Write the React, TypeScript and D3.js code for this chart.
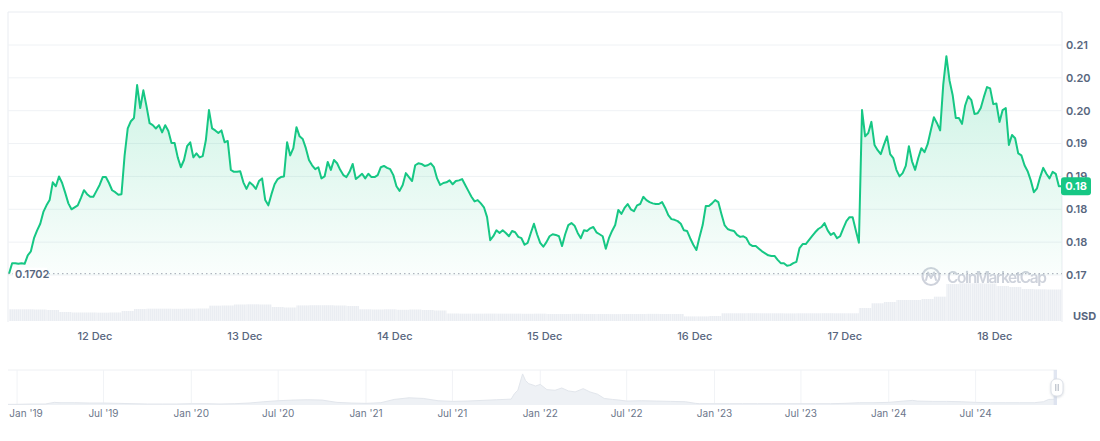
import React from "react";
import * as d3 from "d3";

const width = 1100;
const height = 441;
const plot = { left: 8, right: 1062, top: 12, bottom: 322 };
const nav = { left: 8, right: 1057, top: 370, bottom: 405 };

// price, one value every 30 minutes, starting 11 Dec 10:15
const seriesStart = new Date(2024, 11, 11, 10, 15);
const seriesEnd = new Date(2024, 11, 18, 10, 45);

const dec11 = [
  0.1702, 0.1718, 0.1718, 0.1717, 0.1718, 0.1717, 0.173, 0.1736, 0.1756, 0.1768,
  0.1778, 0.1796, 0.1806, 0.1814, 0.1841, 0.1835, 0.185, 0.184, 0.1825, 0.1809,
  0.18, 0.1803, 0.1806, 0.1817, 0.1829, 0.1823, 0.1819, 0.1819
];
const dec12 = [
  0.1828, 0.1837, 0.1849, 0.1849, 0.184, 0.1829, 0.1826, 0.1822, 0.1823, 0.1882,
  0.1923, 0.1934, 0.1939, 0.1989, 0.1954, 0.1981, 0.1957, 0.1931, 0.1928, 0.1923,
  0.1928, 0.1917, 0.1928, 0.1919, 0.1901, 0.1901, 0.1879, 0.1864, 0.1875, 0.1896,
  0.1902, 0.1879, 0.1885, 0.1879, 0.1881, 0.1905, 0.1951, 0.1923, 0.192, 0.1916,
  0.192, 0.1902, 0.1904, 0.186, 0.1857, 0.1857, 0.1858, 0.1841
];
const dec13 = [
  0.1831, 0.1841, 0.1837, 0.1831, 0.1843, 0.1847, 0.1814, 0.1806, 0.1823, 0.1838,
  0.1846, 0.1849, 0.185, 0.1902, 0.1882, 0.1893, 0.1925, 0.1911, 0.1907, 0.1893,
  0.1875, 0.1867, 0.1861, 0.1864, 0.1847, 0.185, 0.1872, 0.186, 0.1875, 0.187,
  0.186, 0.1852, 0.1849, 0.1857, 0.1869, 0.1846, 0.185, 0.1854, 0.1847, 0.1854,
  0.1849, 0.1849, 0.1852, 0.1864, 0.1866, 0.1863, 0.1861, 0.1852
];
const dec14 = [
  0.1835, 0.1828, 0.1837, 0.1855, 0.1849, 0.1843, 0.1867, 0.187, 0.1869, 0.1866,
  0.1867, 0.187, 0.1864, 0.1847, 0.1837, 0.184, 0.1841, 0.1844, 0.1838, 0.1843,
  0.1844, 0.1846, 0.1837, 0.1828, 0.1819, 0.1812, 0.1814, 0.1809, 0.1803, 0.1788,
  0.1753, 0.1759, 0.1768, 0.1764, 0.1768, 0.1764, 0.1759, 0.1767, 0.1765, 0.1758,
  0.1756, 0.1746, 0.1749, 0.1764, 0.1778, 0.1762, 0.1749, 0.1743
];
const dec15 = [
  0.175, 0.1759, 0.1762, 0.1761, 0.1759, 0.1744, 0.1762, 0.1776, 0.1779, 0.1775,
  0.1764, 0.1756, 0.1768, 0.1767, 0.1771, 0.1773, 0.1765, 0.1762, 0.1759, 0.174,
  0.1756, 0.1767, 0.1776, 0.1799, 0.1793, 0.1802, 0.1808, 0.18, 0.1797, 0.1806,
  0.1808, 0.1819, 0.1814, 0.1811, 0.1809, 0.1808, 0.1808, 0.1811, 0.1802, 0.1791,
  0.1785, 0.1784, 0.1782, 0.1778, 0.1768, 0.1767, 0.1756, 0.1746
];
const dec16 = [
  0.1738, 0.1758, 0.1776, 0.1805, 0.1805, 0.1809, 0.1814, 0.1811, 0.1793, 0.1776,
  0.177, 0.1768, 0.1767, 0.1761, 0.1758, 0.1759, 0.1756, 0.1747, 0.1744, 0.1744,
  0.174, 0.1736, 0.1733, 0.173, 0.1729, 0.1729, 0.1723, 0.1718, 0.1718, 0.1714,
  0.1715, 0.1718, 0.172, 0.1741, 0.1747, 0.1747, 0.1753, 0.1759, 0.1765, 0.177,
  0.1773, 0.1779, 0.1768, 0.1761, 0.1764, 0.1756, 0.1759, 0.1771
];
const dec17 = [
  0.1782, 0.1788, 0.1788, 0.1768, 0.1749, 0.1951, 0.1911, 0.1916, 0.1933, 0.1898,
  0.189, 0.1884, 0.1898, 0.1911, 0.1884, 0.1878, 0.186, 0.185, 0.1855, 0.1866,
  0.1896, 0.1873, 0.186, 0.1878, 0.1893, 0.1887, 0.1899, 0.192, 0.194, 0.1931,
  0.192, 0.199, 0.2033, 0.1996, 0.1974, 0.1939, 0.1939, 0.193, 0.1958, 0.1972,
  0.1966, 0.1945, 0.1946, 0.1954, 0.1971, 0.1986, 0.1984, 0.196
];
const dec18 = [
  0.1961, 0.1933, 0.1951, 0.1954, 0.1898, 0.1913, 0.1908, 0.1885, 0.1882, 0.1867,
  0.1858, 0.1844, 0.1826, 0.1832, 0.1849, 0.1863, 0.1854, 0.1847, 0.1857, 0.1854,
  0.1835, 0.1835
];

// traded volume (millions USD), one bar per 2 hours from the same start
const volumes = [
  29.3, 29.3, 28.8, 27.5, 22.5, 21.3, 21.3, 20.8, 21.3, 25,
  30, 30.8, 30.8, 30.5, 30.8, 31.3, 38.3, 38.8, 41.3, 41.8,
  41.3, 35, 33.8, 39, 39.5, 39.5, 38.8, 37.5, 29.3, 28.8,
  29.3, 28, 28.8, 27.5, 26.3, 18.8, 18.3, 18.3, 18.5, 18.3,
  18.3, 18, 18.3, 17.5, 17.5, 17.8, 17.5, 17.5, 17.3, 17.5,
  17.5, 17.8, 17.5, 17.5, 11.5, 11.5, 12.5, 19.3, 19.3, 19.5,
  19.3, 19.3, 19, 19.3, 19.3, 19.5, 19.3, 19.3, 32.5, 44.3,
  47.5, 52.5, 52.5, 55, 60.8, 92.5, 94.3, 94.3, 93.8, 87.5,
  85, 80, 79.3, 78.8, 78.8
];

const startPrice = 0.1702;

const yTicks = [0.17, 0.175, 0.18, 0.185, 0.19, 0.195, 0.2, 0.205];
const yTickLabels = ["0.17", "0.18", "0.18", "0.19", "0.19", "0.20", "0.20", "0.21"];

const dayTicks = ["2024-12-12", "2024-12-13", "2024-12-14", "2024-12-15", "2024-12-16", "2024-12-17", "2024-12-18"];
const dayTickLabels = ["12 Dec", "13 Dec", "14 Dec", "15 Dec", "16 Dec", "17 Dec", "18 Dec"];

// full history for the range navigator
const navDates = [
  "2018-12-13", "2019-01-01", "2019-02-01", "2019-03-01", "2019-03-20", "2019-04-01", "2019-05-01",
  "2019-06-01", "2019-07-01", "2019-08-01", "2019-09-01", "2019-10-01", "2019-11-01", "2019-12-01",
  "2020-01-01", "2020-02-01", "2020-03-01", "2020-04-01", "2020-05-01", "2020-06-01", "2020-07-01",
  "2020-08-01", "2020-09-01", "2020-10-01", "2020-11-01", "2020-12-01", "2021-01-01", "2021-02-01",
  "2021-03-01", "2021-04-01", "2021-05-01", "2021-06-01", "2021-07-01", "2021-08-01", "2021-09-01",
  "2021-10-01", "2021-11-01", "2021-11-08", "2021-11-15", "2021-11-22", "2021-11-25", "2021-12-01",
  "2021-12-08", "2021-12-15", "2021-12-22", "2022-01-01", "2022-01-15", "2022-02-01", "2022-02-15",
  "2022-03-01", "2022-03-15", "2022-04-01", "2022-04-15", "2022-05-01", "2022-05-15", "2022-06-01",
  "2022-06-15", "2022-07-01", "2022-08-01", "2022-09-01", "2022-10-01", "2022-11-01", "2022-11-22",
  "2022-12-01", "2023-01-01", "2023-02-01", "2023-03-01", "2023-04-01", "2023-05-01", "2023-06-01",
  "2023-07-01", "2023-08-01", "2023-09-01", "2023-10-01", "2023-11-01", "2023-12-01", "2024-01-01",
  "2024-02-01", "2024-02-20", "2024-03-01", "2024-04-01", "2024-05-01", "2024-06-01", "2024-07-01",
  "2024-08-01", "2024-09-01", "2024-10-01", "2024-11-01", "2024-11-20", "2024-12-01", "2024-12-18"
];
const navPrices = [
  0.02, 0.02, 0.03, 0.03, 0.08, 0.07, 0.07,
  0.06, 0.06, 0.05, 0.04, 0.03, 0.03, 0.03,
  0.04, 0.04, 0.03, 0.04, 0.06, 0.1, 0.13,
  0.15, 0.16, 0.15, 0.08, 0.06, 0.05, 0.07,
  0.17, 0.22, 0.2, 0.13, 0.11, 0.12, 0.14,
  0.16, 0.18, 0.35, 0.45, 0.8, 0.95, 0.75,
  0.65, 0.62, 0.58, 0.63, 0.47, 0.45, 0.52,
  0.43, 0.4, 0.5, 0.4, 0.33, 0.2, 0.17,
  0.15, 0.12, 0.13, 0.12, 0.11, 0.1, 0.05,
  0.04, 0.04, 0.04, 0.04, 0.04, 0.04, 0.04,
  0.04, 0.04, 0.04, 0.05, 0.07, 0.07, 0.08,
  0.12, 0.14, 0.12, 0.11, 0.11, 0.1, 0.08,
  0.07, 0.07, 0.07, 0.07, 0.1, 0.17, 0.18
];

const navTicks = [
  "2019-01-01", "2019-07-01", "2020-01-01", "2020-07-01", "2021-01-01", "2021-07-01",
  "2022-01-01", "2022-07-01", "2023-01-01", "2023-07-01", "2024-01-01", "2024-07-01"
];
const navTickLabels = [
  "Jan '19", "Jul '19", "Jan '20", "Jul '20", "Jan '21", "Jul '21",
  "Jan '22", "Jul '22", "Jan '23", "Jul '23", "Jan '24", "Jul '24"
];

const green = "#16c784";
const textGray = "#58667e";
const gridGray = "#eff2f5";
const font = "Inter, 'Noto Sans', sans-serif";

const parseDay = d3.timeParse("%Y-%m-%d");

export default function App() {
  const prices = [...dec11, ...dec12, ...dec13, ...dec14, ...dec15, ...dec16, ...dec17, ...dec18];
  const data = prices.map((v, i) => ({ date: d3.timeMinute.offset(seriesStart, 30 * i), value: v }));

  const x = d3.scaleTime().domain([seriesStart, seriesEnd]).range([9, plot.right]);
  const y = d3.scaleLinear().domain([0.17, 0.205]).range([275, 45]);
  const yVol = d3.scaleLinear().domain([0, 250]).range([321, 221]);

  const line = d3
    .line<{ date: Date; value: number }>()
    .x(d => x(d.date))
    .y(d => y(d.value));
  const area = d3
    .area<{ date: Date; value: number }>()
    .x(d => x(d.date))
    .y0(y(0.17))
    .y1(d => y(d.value));

  const bars = volumes.map((v, i) => {
    const t0 = d3.timeHour.offset(seriesStart, 2 * i);
    const t1 = d3.timeHour.offset(seriesStart, 2 * i + 2);
    const x0 = x(t0);
    const x1 = Math.min(x(t1), plot.right);
    return { x: x0, w: Math.max(0, x1 - x0), y: yVol(v), h: yVol(0) - yVol(v) };
  });

  const navData = navDates.map((d, i) => ({ date: parseDay(d) as Date, value: navPrices[i] }));
  const xNav = d3
    .scaleTime()
    .domain([parseDay("2018-12-13") as Date, seriesEnd])
    .range([nav.left, nav.right]);
  const yNav = d3.scaleLinear().domain([0, 1.07]).range([nav.bottom, nav.top]);
  const navArea = d3
    .area<{ date: Date; value: number }>()
    .x(d => xNav(d.date))
    .y0(nav.bottom)
    .y1(d => yNav(d.value));
  const navLine = d3
    .line<{ date: Date; value: number }>()
    .x(d => xNav(d.date))
    .y(d => yNav(d.value));

  const last = data[data.length - 1];
  const lastY = y(last.value);

  return (
    <div style={{ position: "fixed", left: 0, top: 0, width, height, background: "#fff" }}>
      <svg width={width} height={height} style={{ display: "block", fontFamily: font }}>
        <defs>
          <linearGradient id="areaFill" gradientUnits="userSpaceOnUse" x1="0" y1={45} x2="0" y2={y(0.17)}>
            <stop offset="0%" stopColor={green} stopOpacity={0.24} />
            <stop offset="100%" stopColor={green} stopOpacity={0.02} />
          </linearGradient>
          <pattern id="volStripes" patternUnits="userSpaceOnUse" width="2" height="4">
            <rect width="2" height="4" fill="#f1f3f6" />
            <rect width="1" height="4" fill="#eaedf2" />
          </pattern>
          <filter id="handleShadow" x="-50%" y="-50%" width="200%" height="200%">
            <feDropShadow dx="0" dy="1" stdDeviation="1.2" floodColor="#8a94a6" floodOpacity="0.35" />
          </filter>
        </defs>

        {/* frame */}
        <line x1={plot.left} x2={plot.right} y1={plot.top} y2={plot.top} stroke="#e9ecf1" />
        <line x1={plot.left} x2={plot.left} y1={plot.top} y2={plot.bottom} stroke="#e9ecf1" />
        <line x1={plot.right} x2={plot.right} y1={plot.top} y2={plot.bottom} stroke="#e9ecf1" />

        {/* horizontal grid */}
        {yTicks.map(t => (
          <line key={t} x1={plot.left} x2={plot.right} y1={y(t)} y2={y(t)} stroke={gridGray} />
        ))}

        {/* volume */}
        {bars.map((b, i) => (
          <rect key={i} x={b.x} y={b.y} width={b.w} height={b.h} fill="url(#volStripes)" />
        ))}

        {/* watermark */}
        <g opacity={0.9}>
          <circle cx={931} cy={276.5} r={8.5} fill="none" stroke="#c9ced8" strokeWidth={2.2} />
          <path d="M926 280 L928 272.5 L931 278 L934 272.5 L936 280" fill="none" stroke="#c9ced8" strokeWidth={2} strokeLinejoin="round" strokeLinecap="round" />
          <text x={947} y={282.5} fontSize={15.5} fontWeight={600} fill="#c9ced8" textLength={100}>
            CoinMarketCap
          </text>
        </g>

        {/* price */}
        <path d={area(data) ?? ""} fill="url(#areaFill)" />
        <path d={line(data) ?? ""} fill="none" stroke={green} strokeWidth={2} strokeLinejoin="round" />

        {/* start price reference */}
        <line x1={plot.left} x2={plot.right} y1={y(startPrice)} y2={y(startPrice)} stroke="#a1a7b3" strokeDasharray="1.5 3" />
        <rect x={13} y={y(startPrice) - 6} width={34} height={12} fill="#fff" />
        <text x={15} y={y(startPrice)} dy="0.35em" fontSize={11} fontWeight={600} fill={textGray}>
          {startPrice.toFixed(4)}
        </text>

        {/* right axis */}
        {yTicks.map((t, i) => (
          <text key={t} x={1066} y={y(t)} dy="0.35em" fontSize={11} fontWeight={600} fill={textGray}>
            {yTickLabels[i]}
          </text>
        ))}
        <text x={1073} y={316} dy="0.35em" fontSize={11} fontWeight={700} fill={textGray}>
          USD
        </text>

        {/* current price tag */}
        <rect x={1061} y={lastY - 9} width={30} height={18} rx={3} fill={green} />
        <text x={1076} y={lastY} dy="0.35em" textAnchor="middle" fontSize={11} fontWeight={700} fill="#fff">
          {last.value.toFixed(2)}
        </text>

        {/* day axis */}
        {dayTicks.map((d, i) => (
          <text key={d} x={x(parseDay(d) as Date)} y={336} dy="0.35em" textAnchor="middle" fontSize={11} fontWeight={500} fill={textGray}>
            {dayTickLabels[i]}
          </text>
        ))}

        {/* navigator */}
        <line x1={nav.left} x2={nav.right} y1={nav.top} y2={nav.top} stroke="#eef0f3" />
        {navTicks.map(d => (
          <line key={d} x1={xNav(parseDay(d) as Date)} x2={xNav(parseDay(d) as Date)} y1={nav.top} y2={nav.bottom} stroke="#f1f3f6" />
        ))}
        <path d={navArea(navData) ?? ""} fill="#eef1f5" />
        <path d={navLine(navData) ?? ""} fill="none" stroke="#e2e6ec" strokeWidth={1} />
        <rect
          x={xNav(seriesStart)}
          y={nav.top}
          width={xNav(seriesEnd) - xNav(seriesStart)}
          height={nav.bottom - nav.top}
          fill="#d9e0ee"
          opacity={0.8}
        />
        {navTicks.map((d, i) => (
          <text
            key={d}
            x={Math.max(xNav(parseDay(d) as Date), 26)}
            y={413}
            dy="0.35em"
            textAnchor="middle"
            fontSize={10}
            fill="#6b768a"
          >
            {navTickLabels[i]}
          </text>
        ))}
        <g filter="url(#handleShadow)">
          <rect x={xNav(seriesEnd) - 6} y={379} width={12} height={17} rx={5} fill="#fff" stroke="#dde1e8" />
        </g>
        <line x1={xNav(seriesEnd) - 1.2} x2={xNav(seriesEnd) - 1.2} y1={384} y2={391} stroke="#a3aab7" strokeWidth={0.9} />
        <line x1={xNav(seriesEnd) + 1.2} x2={xNav(seriesEnd) + 1.2} y1={384} y2={391} stroke="#a3aab7" strokeWidth={0.9} />
      </svg>
    </div>
  );
}
